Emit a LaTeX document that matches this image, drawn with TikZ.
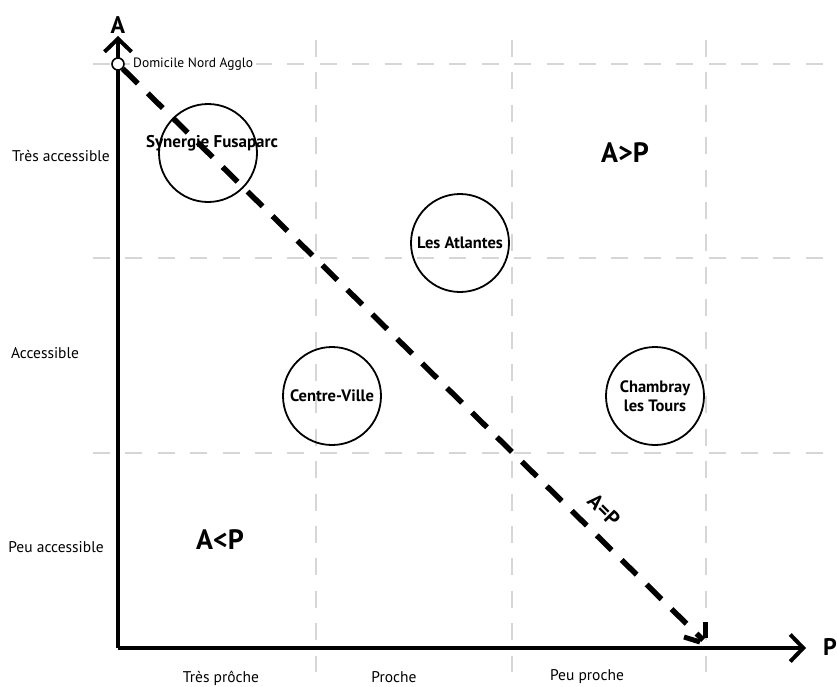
\documentclass[tikz,border=0pt]{standalone}
\usepackage{fontspec}
\setmainfont{PT Sans}
\usetikzlibrary{arrows.meta}
\begin{document}
\begin{tikzpicture}[x=1pt,y=-1pt,
  grid/.style={draw=black!16,line width=1.1pt,dash pattern=on 17pt off 15.4pt},
  axis/.style={draw=black,line width=4pt,-{Straight Barb[length=13pt,width=27pt,line width=4pt]}},
  site/.style={circle,draw=black,line width=1.8pt,minimum size=98pt,inner sep=0pt,align=center,font=\bfseries\fontsize{16.5}{19}\selectfont},
  lbl/.style={font=\fontsize{15.5}{17}\selectfont},
  big/.style={font=\bfseries\fontsize{28}{28}\selectfont},
  diag/.style={draw=black,line width=5.5pt,dash pattern=on 21pt off 14pt},
  barb/.style={draw=black,line width=5pt}]
\useasboundingbox (0,0) rectangle (837,686);
% grid
\coordinate (v1t) at (316,40); \coordinate (v1b) at (316,672);
\coordinate (v2t) at (512,40); \coordinate (v2b) at (512,672);
\coordinate (v3t) at (706,40); \coordinate (v3b) at (706,672);
\coordinate (h1l) at (93,64); \coordinate (h1r) at (837,64);
\coordinate (h2l) at (93,258); \coordinate (h2r) at (837,258);
\coordinate (h3l) at (93,453); \coordinate (h3r) at (837,453);
\draw[grid] (v1t) -- (v1b);
\draw[grid] (v2t) -- (v2b);
\draw[grid] (v3t) -- (v3b);
\draw[grid] (h1l) -- (h1r);
\draw[grid] (h2l) -- (h2r);
\draw[grid] (h3l) -- (h3r);
% axes
\coordinate (O) at (118,648);
\coordinate (Ytop) at (118,36);
\coordinate (Xend) at (806,648);
\draw[axis] (O) -- (Ytop);
\draw[axis] (O) -- (Xend);
\node[font=\bfseries\fontsize{24}{24}\selectfont] (A) at (118,25) {A};
\node[font=\bfseries\fontsize{24}{24}\selectfont] (P) at (830,647) {P};
% diagonal
\node[circle,draw=black,fill=white,line width=1.6pt,minimum size=12pt,inner sep=0pt] (home) at (118,64) {};
\node[anchor=west,fill=white,inner sep=3pt,font=\fontsize{13.5}{14}\selectfont] (homel) at (130,64) {Domicile Nord Agglo};
\coordinate (tip) at (703,640);
\draw[diag] (home) -- (tip);
\coordinate (b1a) at (705,622); \coordinate (b1b) at (705,638);
\coordinate (b2a) at (684,637); \coordinate (b2b) at (700,642);
\draw[barb] (b1a) -- (b1b);
\draw[barb] (b2a) -- (b2b);
% sites
\node[site] (syn) at (208,153) {};
\node[font=\bfseries\fontsize{17}{19}\selectfont] (synl) at (212,143) {Synergie Fusaparc};
\node[site] (atl) at (460,243) {Les Atlantes};
\node[site] (cv) at (332,396) {Centre-Ville};
\node[site] (ch) at (655,396) {Chambray\\les Tours};
% regions
\node[big] (agp) at (625,153) {A>P};
\node[big] (alp) at (220,540) {A<P};
\node[font=\bfseries\fontsize{21}{21}\selectfont,rotate=-45] (aep) at (604,510) {A=P};
% axis labels
\node[lbl] (r1) at (61,156) {Très accessible};
\node[lbl] (r2) at (45,353) {Accessible};
\node[lbl] (r3) at (56,547) {Peu accessible};
\node[lbl] (c1) at (221,678) {Très prôche};
\node[lbl] (c2) at (394,677) {Proche};
\node[lbl] (c3) at (587,677) {Peu proche};
\end{tikzpicture}
\end{document}
